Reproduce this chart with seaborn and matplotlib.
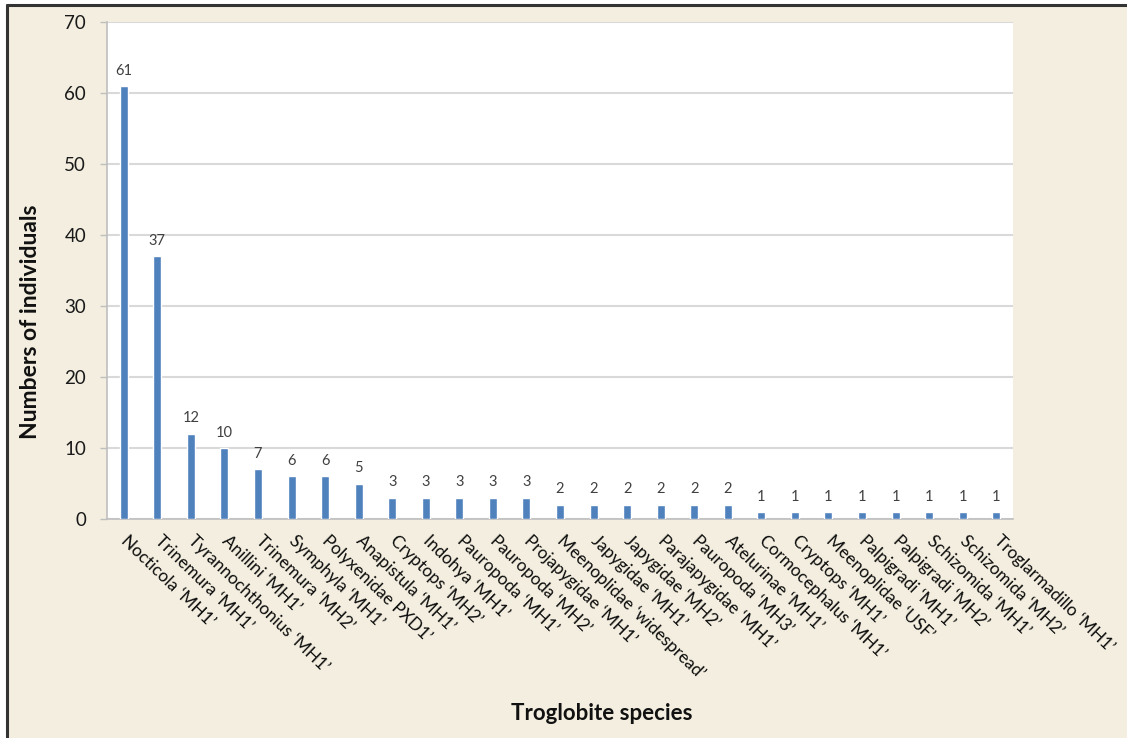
import matplotlib
matplotlib.use("Agg")
import matplotlib.pyplot as plt
from matplotlib.patches import Rectangle
from matplotlib.lines import Line2D
import seaborn as sns
import pandas as pd

species = [
    "Nocticola ‘MH1’", "Trinemura ‘MH1’", "Tyrannochthonius ‘MH1’",
    "Anillini ‘MH1’", "Trinemura ‘MH2’", "Symphyla ‘MH1’",
    "Polyxenidae PXD1’", "Anapistula ‘MH1’", "Cryptops ‘MH2’",
    "Indohya ‘MH1’", "Pauropoda ‘MH1’", "Pauropoda ‘MH2’",
    "Projapygidae ‘MH1’", "Meenoplidae ‘widespread’", "Japygidae ‘MH1’",
    "Japygidae ‘MH2’", "Parajapygidae ‘MH1’", "Pauropoda ‘MH3’",
    "Atelurinae ‘MH1’", "Cormocephalus ‘MH1’", "Cryptops ‘MH1’",
    "Meenoplidae ‘USF’", "Palpigradi ‘MH1’", "Palpigradi ‘MH2’",
    "Schizomida ‘MH1’", "Schizomida ‘MH2’", "Troglarmadillo ‘MH1’",
]
counts = [61, 37, 12, 10, 7, 6, 6, 5, 3, 3, 3, 3, 3, 2, 2, 2, 2, 2, 2,
          1, 1, 1, 1, 1, 1, 1, 1]
y_ticks = [0, 10, 20, 30, 40, 50, 60, 70]

df = pd.DataFrame({"species": species, "count": counts})

sns.set_theme(style="white")
plt.rcParams["font.family"] = ["Lato", "DejaVu Sans"]

W, H = 1127, 738
fig = plt.figure(figsize=(W / 100, H / 100), dpi=100, facecolor="white")

# beige panel with a dark frame on the left and top
fig.patches.append(Rectangle((7 / W, 0), 1 - 7 / W, 1 - 5 / H,
                             transform=fig.transFigure, facecolor="#F3EEDF",
                             edgecolor="none", zorder=-10))
fig.lines.append(Line2D([7 / W, 7 / W], [0, 1 - 5 / H], transform=fig.transFigure,
                        color="#333333", linewidth=2.2, zorder=-5))
fig.lines.append(Line2D([7 / W, 1], [1 - 5 / H, 1 - 5 / H], transform=fig.transFigure,
                        color="#333333", linewidth=2.2, zorder=-5))

ax = fig.add_axes([107 / W, 1 - 519 / H, (1013 - 107) / W, (519 - 22) / H])
ax.set_facecolor("white")

sns.barplot(data=df, x="species", y="count", color="#4F81BD", width=0.24,
            saturation=1, ax=ax, zorder=3)

ax.bar_label(ax.containers[0], labels=[str(c) for c in counts], padding=6,
             fontsize=10.5, color="#404040")

ax.set_ylim(0, 70)
ax.set_xlim(-0.5, len(species) - 0.5)
ax.set_yticks(y_ticks)
ax.set_yticklabels([str(t) for t in y_ticks], fontsize=13.5, color="#1a1a1a")
ax.yaxis.grid(True, color="#D9D9D9", linewidth=1.5, zorder=0)
ax.set_axisbelow(True)

ax.tick_params(axis="y", which="major", direction="out", length=5, width=1,
               color="#BFBFBF", pad=10, left=True)
ax.tick_params(axis="x", length=0, pad=14)

ax.set_xticks(range(len(species)))
ax.set_xticklabels(species, rotation=-44, ha="left", va="center",
                   rotation_mode="anchor", fontsize=12.4, color="#0d0d0d")

for side in ("top", "right"):
    ax.spines[side].set_visible(False)
for side in ("left", "bottom"):
    ax.spines[side].set_color("#BFBFBF")
    ax.spines[side].set_linewidth(1.2)

ax.set_xlabel("")
ax.set_ylabel("")
fig.text(602 / W, 1 - 713 / H, "Troglobite species", ha="center", va="center",
         fontsize=16, fontweight="bold", color="#111111")
fig.text(31 / W, 1 - 322 / H, "Numbers of individuals", ha="center", va="center",
         rotation=90, fontsize=16.5, fontweight="bold", color="#111111")

fig.savefig("out.png", dpi=100, facecolor=fig.get_facecolor())
